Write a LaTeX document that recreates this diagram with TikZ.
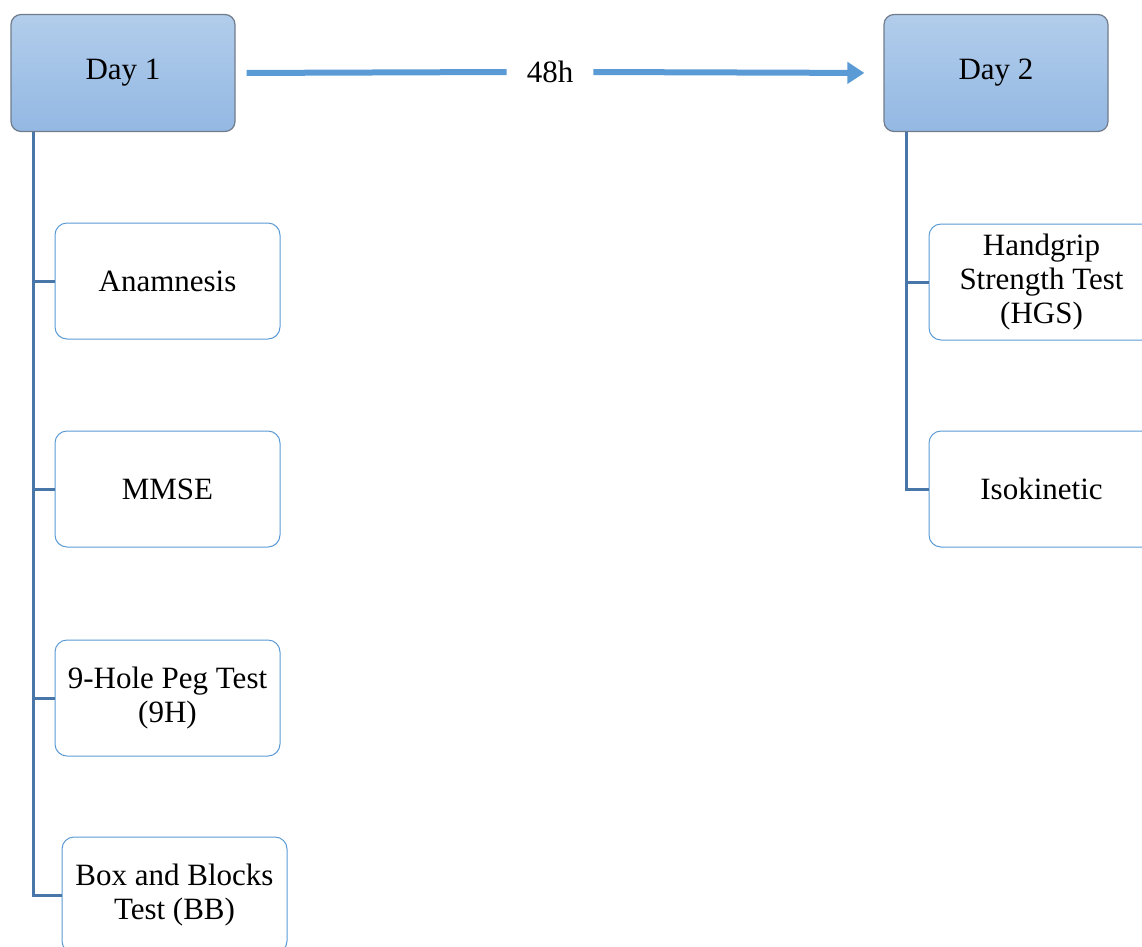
\documentclass[tikz,border=0pt]{standalone}
\usepackage{fontspec}
\setmainfont{Liberation Serif}
\usepackage{xcolor}
\usepackage{tikz}
\usetikzlibrary{arrows.meta, positioning}

\definecolor{dayfilltop}{RGB}{178,205,235}
\definecolor{dayfillbot}{RGB}{147,184,227}
\definecolor{dayedge}{RGB}{112,124,140}
\definecolor{arrowblue}{RGB}{91,155,213}
\definecolor{treeblue}{RGB}{72,118,168}

\begin{document}
\begin{tikzpicture}[x=1pt, y=-1pt,
  daybox/.style={draw=dayedge, line width=1.2pt, rounded corners=10pt,
    top color=dayfilltop, bottom color=dayfillbot,
    minimum width=224pt, minimum height=117pt,
    font=\fontsize{31}{34}\selectfont},
  testbox/.style={draw=arrowblue, line width=1pt, fill=white, rounded corners=12pt,
    minimum width=225pt, minimum height=116pt, align=center,
    font=\fontsize{31}{34}\selectfont},
  link/.style={draw=treeblue, line width=3pt},
  timeline/.style={draw=arrowblue, line width=6pt}]
\useasboundingbox (0,0) rectangle (1142,946);
\clip (0,0) rectangle (1142,946);

\node[daybox] (day1) at (123,73) {Day 1};
\node[daybox, minimum height=117pt] (day2) at (996,73) {Day 2};
\node[inner xsep=20pt, font=\fontsize{31}{34}\selectfont] (gap) at (550,72) {48h};

\draw[timeline, shorten <=11pt] (day1.east) -- (gap.west);
\draw[timeline, -{Triangle[length=17pt,width=21pt]}, shorten >=19pt] (gap.east) -- (day2.west);

\node[testbox] (anam) at (167.5,281) {Anamnesis};
\node[testbox] (mmse) at (167.5,489) {MMSE};
\node[testbox] (peg) at (167.5,698) {9-Hole Peg Test\\(9H)};
\node[testbox] (bb) at (174.5,895) {Box and Blocks\\Test (BB)};

\node[testbox] (hgs) at (1041.5,282) {Handgrip\\Strength Test\\(HGS)};
\node[testbox] (iso) at (1041.5,489) {Isokinetic};

\foreach \t in {anam, mmse, peg, bb}
  \draw[link] ([xshift=23pt]day1.south west) |- (\t.west);
\foreach \t in {hgs, iso}
  \draw[link] ([xshift=23pt]day2.south west) |- (\t.west);
\end{tikzpicture}
\end{document}
